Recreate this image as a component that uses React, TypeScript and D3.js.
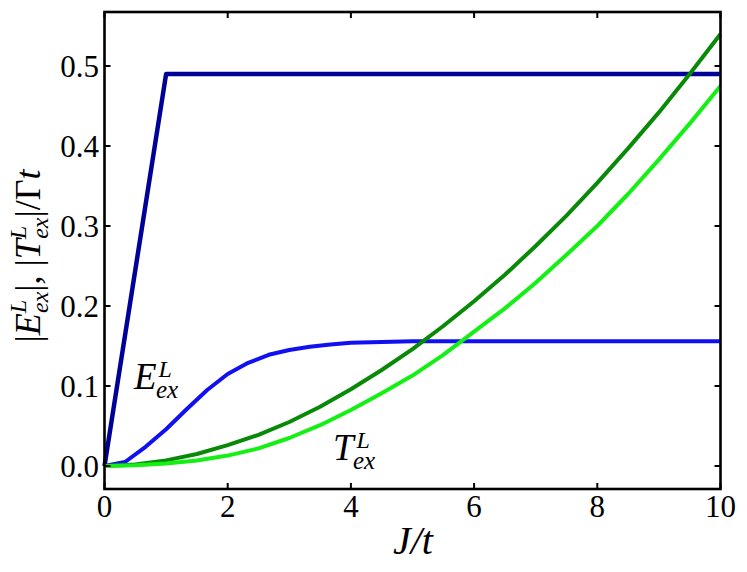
import React, { useEffect, useRef } from "react";
import * as d3 from "d3";

// J/t sample points
const jSteps = [0, 0.5, 1, 1.5, 2, 2.5, 3, 3.5, 4, 4.5, 5, 5.5, 6, 6.5, 7, 7.5, 8, 8.5, 9, 9.5, 10];

// |T_ex^L| / Gamma t, dark green and light green curves
const tDark = [0, 0.002, 0.007, 0.015, 0.026, 0.039, 0.055, 0.074, 0.096, 0.12, 0.146, 0.175, 0.206, 0.239, 0.275, 0.313, 0.354, 0.397, 0.442, 0.49, 0.54];
const tLight = [0, 0.001, 0.003, 0.007, 0.013, 0.022, 0.035, 0.051, 0.07, 0.091, 0.113, 0.139, 0.168, 0.197, 0.229, 0.264, 0.3, 0.34, 0.383, 0.428, 0.475];

// |E_ex^L| (blue), sampled finer at small J
const eJ = [0, 0.333, 0.667, 1, 1.333, 1.667, 2, 2.333, 2.667, 3, 3.333, 3.667, 4, 4.5, 5, 6, 7, 8, 9, 10];
const eVal = [0, 0.005, 0.024, 0.046, 0.071, 0.095, 0.115, 0.129, 0.139, 0.145, 0.149, 0.152, 0.154, 0.155, 0.156, 0.156, 0.156, 0.156, 0.156, 0.156];

// saturated bound (navy)
const boundJ = [0, 1, 10];
const boundVal = [0, 0.49, 0.49];

const xTicks = [0, 2, 4, 6, 8, 10];
const yTicks = [0.0, 0.1, 0.2, 0.3, 0.4, 0.5];

const W = 747;
const H = 572;

const App: React.FC = () => {
  const svgRef = useRef<SVGSVGElement>(null);

  useEffect(() => {
    const svg = d3.select(svgRef.current);
    svg.selectAll("*").remove();

    const x = d3.scaleLinear().domain([0, 10]).range([104.5, 720.5]);
    const y = d3.scaleLinear().domain([-0.02875, 0.5675]).range([489, 12]);
    const [x0, x1] = x.range();
    const [y0, y1] = y.range();

    const serif = "Liberation Serif, DejaVu Serif, serif";

    const line = d3
      .line<[number, number]>()
      .x((d) => x(d[0]))
      .y((d) => y(d[1]));

    const series = [
      { xs: boundJ, ys: boundVal, color: "#000099", w: 4.5 },
      { xs: eJ, ys: eVal, color: "#1010f0", w: 4 },
      { xs: jSteps, ys: tDark, color: "#088a08", w: 4 },
      { xs: jSteps, ys: tLight, color: "#14f014", w: 4 },
    ];

    series.forEach((s) => {
      svg
        .append("path")
        .datum(s.xs.map((v, i) => [v, s.ys[i]] as [number, number]))
        .attr("d", line)
        .attr("fill", "none")
        .attr("stroke", s.color)
        .attr("stroke-width", s.w)
        .attr("stroke-linejoin", "round");
    });

    // frame
    svg
      .append("rect")
      .attr("x", x0)
      .attr("y", y1)
      .attr("width", x1 - x0)
      .attr("height", y0 - y1)
      .attr("fill", "none")
      .attr("stroke", "#000")
      .attr("stroke-width", 2.6);

    // ticks, inward on all four sides
    const tl = 6;
    xTicks.forEach((t) => {
      svg.append("line").attr("x1", x(t)).attr("x2", x(t)).attr("y1", y0).attr("y2", y0 - tl).attr("stroke", "#000").attr("stroke-width", 2);
      svg.append("line").attr("x1", x(t)).attr("x2", x(t)).attr("y1", y1).attr("y2", y1 + tl).attr("stroke", "#000").attr("stroke-width", 2);
      svg
        .append("text")
        .attr("x", x(t))
        .attr("y", 517)
        .attr("text-anchor", "middle")
        .attr("font-family", serif)
        .attr("font-size", 31)
        .text(String(t));
    });
    yTicks.forEach((t) => {
      svg.append("line").attr("x1", x0).attr("x2", x0 + tl).attr("y1", y(t)).attr("y2", y(t)).attr("stroke", "#000").attr("stroke-width", 2);
      svg.append("line").attr("x1", x1).attr("x2", x1 - tl).attr("y1", y(t)).attr("y2", y(t)).attr("stroke", "#000").attr("stroke-width", 2);
      svg
        .append("text")
        .attr("x", 99)
        .attr("y", y(t))
        .attr("dy", "0.35em")
        .attr("text-anchor", "end")
        .attr("font-family", serif)
        .attr("font-size", 31)
        .text(t.toFixed(1));
    });

    // x label
    svg
      .append("text")
      .attr("x", 413)
      .attr("y", 554)
      .attr("text-anchor", "middle")
      .attr("font-family", serif)
      .attr("font-size", 40)
      .attr("font-style", "italic")
      .text("J/t");

    // tspan helper: stacked super/subscripts live in one <text>
    type Opt = { it?: boolean; size?: number; dx?: number; dy?: number };
    const span = (sel: any, txt: string, o: Opt) => {
      const s = sel.append("tspan").text(txt);
      if (o.it) s.attr("font-style", "italic");
      if (o.size) s.attr("font-size", o.size);
      if (o.dx) s.attr("dx", o.dx);
      if (o.dy) s.attr("dy", o.dy);
    };

    // in-plot labels
    const mathLabel = (letter: string, bx: number, by: number, supDx: number) => {
      const t = svg
        .append("text")
        .attr("x", bx)
        .attr("y", by)
        .attr("font-family", serif)
        .attr("font-size", 37)
        .attr("font-style", "italic");
      span(t, letter, {});
      span(t, "L", { size: 24, dx: supDx, dy: -12 });
      span(t, "ex", { size: 25, dx: -14 - supDx, dy: 21 });
    };
    mathLabel("E", 134, 389, 2);
    mathLabel("T", 333, 460, 3);

    // y label, rotated
    const yl = svg
      .append("text")
      .attr("transform", "translate(40,256) rotate(-90)")
      .attr("text-anchor", "middle")
      .attr("font-family", serif)
      .attr("font-size", 36);
    span(yl, "|", {});
    span(yl, "E", { it: true });
    span(yl, "L", { it: true, size: 24, dy: -14 });
    span(yl, "ex", { it: true, size: 24, dx: -13, dy: 22 });
    span(yl, "|, |", { dy: -8 });
    span(yl, "T", { it: true });
    span(yl, "L", { it: true, size: 24, dy: -14 });
    span(yl, "ex", { it: true, size: 24, dx: -13, dy: 22 });
    span(yl, "|/Γ", { dy: -8 });
    span(yl, "t", { it: true });
  }, []);

  return (
    <div style={{ position: "absolute", left: 0, top: 0, width: W, height: H, background: "#fff" }}>
      <svg ref={svgRef} width={W} height={H}></svg>
    </div>
  );
};

export default App;
